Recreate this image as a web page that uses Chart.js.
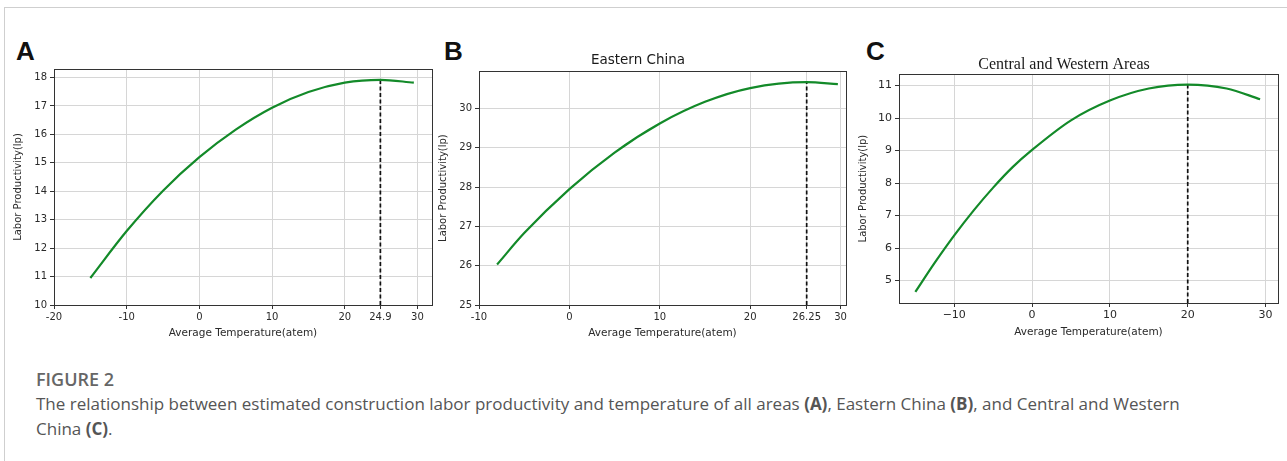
<!DOCTYPE html>
<html>
<head>
<meta charset="utf-8">
<script src="https://cdn.jsdelivr.net/npm/chart.js@4"></script>
<style>
  body { margin: 0; width: 1287px; height: 461px; background: #fff; position: relative; overflow: hidden; font-family: "Open Sans", sans-serif; }
  .card { position: absolute; left: 4px; top: 7px; width: 1300px; height: 470px; border-left: 1px solid #cfcfcf; border-top: 1px solid #cfcfcf; }
  .panel { position: absolute; top: 40px; }
  .letter { position: absolute; top: 38px; font: bold 26px/26px "Liberation Sans", Arial, sans-serif; color: #111; }
  .cap-head { position: absolute; left: 36px; top: 367px; font-size: 18px; line-height: 24px; font-weight: 600; color: #666; }
  .cap-text { position: absolute; left: 36px; top: 391px; font-size: 17px; line-height: 25px; color: #555; white-space: nowrap; }
  .cap-text b { font-weight: 700; color: #555; }
</style>
</head>
<body>
<div class="card"></div>

<div class="letter" style="left:16px">A</div>
<div class="letter" style="left:444px">B</div>
<div class="letter" style="left:866px">C</div>

<canvas id="chartA" class="panel" style="left:0px" width="440" height="310"></canvas>
<canvas id="chartB" class="panel" style="left:430px" width="430" height="310"></canvas>
<canvas id="chartC" class="panel" style="left:850px" width="437" height="310"></canvas>

<div class="cap-head">FIGURE 2</div>
<div class="cap-text">The relationship between estimated construction labor productivity and temperature of all areas <b>(A)</b>, Eastern China <b>(B)</b>, and Central and Western<br>China <b>(C)</b>.</div>

<script>
// Panel A - all areas
const tempA = [-15, -10, -5, 0, 5, 10, 15, 20, 24.9, 29.5];
const lpA = [10.95, 12.6, 14.02, 15.2, 16.17, 16.94, 17.49, 17.82, 17.92, 17.82];
const xTicksA = [-20, -10, 0, 10, 20, 24.9, 30];
const yTicksA = [10, 11, 12, 13, 14, 15, 16, 17, 18];
const peakA = 24.9;

// Panel B - Eastern China
const tempB = [-8, -5, 0, 5, 10, 15, 20, 26.25, 29.7];
const lpB = [26.03, 26.83, 27.95, 28.88, 29.62, 30.17, 30.52, 30.67, 30.62];
const xTicksB = [-10, 0, 10, 20, 26.25, 30];
const yTicksB = [25, 26, 27, 28, 29, 30];
const peakB = 26.25;

// Panel C - Central and Western areas
const tempC = [-15, -12.5, -10, -7.5, -5, -2.5, 0, 5, 10, 15, 20, 25, 29.3];
const lpC = [4.65, 5.55, 6.39, 7.16, 7.86, 8.49, 9.02, 9.93, 10.54, 10.91, 11.03, 10.91, 10.58];
const xTicksC = [-10, 0, 10, 20, 30];
const yTicksC = [5, 6, 7, 8, 9, 10, 11];
const peakC = 20;

const xTitle = 'Average Temperature(atem)';
const yTitle = 'Labor Productivity(lp)';

// box around the plot area
const frame = {
  id: 'frame',
  beforeDatasetsDraw(chart) {
    const { ctx, chartArea: a } = chart;
    ctx.save();
    ctx.strokeStyle = '#333';
    ctx.lineWidth = 1;
    ctx.strokeRect(Math.round(a.left) + 0.5, Math.round(a.top) + 0.5,
      Math.round(a.right - a.left), Math.round(a.bottom - a.top));
    ctx.restore();
  }
};

function makePanel(id, p) {
  const curve = p.temp.map((t, i) => ({ x: t, y: p.lp[i] }));
  const peakY = p.lp[p.temp.indexOf(p.peak)];
  const dashed = [{ x: p.peak, y: p.yMin }, { x: p.peak, y: peakY }];

  return new Chart(document.getElementById(id), {
    type: 'line',
    data: {
      datasets: [
        {
          data: curve,
          borderColor: '#138a29',
          borderWidth: 2.2,
          pointRadius: 0,
          cubicInterpolationMode: 'monotone'
        },
        {
          data: dashed,
          borderColor: '#111',
          borderWidth: 1.7,
          borderDash: [4, 2.5],
          pointRadius: 0
        }
      ]
    },
    options: {
      responsive: false,
      animation: false,
      devicePixelRatio: 1,
      layout: { padding: { top: p.padTop, right: p.padRight, left: 0, bottom: 0 } },
      plugins: {
        legend: { display: false },
        tooltip: { enabled: false },
        title: p.title ? {
          display: true,
          text: p.title,
          color: '#1a1a1a',
          font: p.titleFont,
          padding: p.titlePad
        } : { display: false }
      },
      scales: {
        x: {
          type: 'linear',
          min: p.xMin,
          max: p.xMax,
          afterBuildTicks: s => { s.ticks = p.xTicks.map(v => ({ value: v })); },
          afterFit: s => { s.height = p.xHeight; },
          grid: { color: '#d6d6d6', tickColor: '#333', tickLength: 4 },
          border: { color: '#333' },
          ticks: {
            autoSkip: false,
            maxRotation: 0,
            padding: 2,
            color: '#2a2a2a',
            font: { family: 'DejaVu Sans', size: p.tickSize },
            callback: v => p.minus ? String(v).replace('-', '\u2212') : String(v)
          },
          title: {
            display: true,
            text: xTitle,
            color: '#2a2a2a',
            font: { family: 'DejaVu Sans', size: 10.5 },
            padding: { top: 0, bottom: p.xTitlePad }
          }
        },
        y: {
          min: p.yMin,
          max: p.yMax,
          afterBuildTicks: s => { s.ticks = p.yTicks.map(v => ({ value: v })); },
          afterFit: s => { s.width = p.yWidth; },
          grid: { color: '#d6d6d6', tickColor: '#333', tickLength: 4 },
          border: { color: '#333' },
          ticks: {
            padding: 3,
            color: '#2a2a2a',
            font: { family: 'DejaVu Sans', size: p.tickSize }
          },
          title: {
            display: true,
            text: yTitle,
            color: '#2a2a2a',
            font: { family: 'DejaVu Sans', size: 10 },
            padding: { top: p.yTitlePad, bottom: 0 }
          }
        }
      }
    },
    plugins: [frame]
  });
}

makePanel('chartA', {
  temp: tempA, lp: lpA, peak: peakA, xTicks: xTicksA, yTicks: yTicksA,
  xMin: -20, xMax: 32, yMin: 10, yMax: 18.3,
  padTop: 29, padRight: 8, yWidth: 54, xHeight: 45,
  tickSize: 10, xTitlePad: 10, yTitlePad: 12
});

makePanel('chartB', {
  temp: tempB, lp: lpB, peak: peakB, xTicks: xTicksB, yTicks: yTicksB,
  xMin: -10, xMax: 30.6, yMin: 25, yMax: 30.95,
  padTop: 0, padRight: 14, yWidth: 49, xHeight: 45,
  title: 'Eastern China', titleFont: { family: 'DejaVu Sans', size: 13.5, weight: 'normal' },
  titlePad: { top: 12, bottom: 3 },
  tickSize: 10, xTitlePad: 10, yTitlePad: 7
});

makePanel('chartC', {
  temp: tempC, lp: lpC, peak: peakC, xTicks: xTicksC, yTicks: yTicksC,
  xMin: -17.1, xMax: 31.6, yMin: 4.31, yMax: 11.35,
  padTop: 0, padRight: 9, yWidth: 49, xHeight: 47,
  title: 'Central and Western Areas', titleFont: { family: 'Liberation Serif', size: 16, weight: 'normal' },
  titlePad: { top: 15, bottom: 0 },
  tickSize: 11, xTitlePad: 11, yTitlePad: 7, minus: true
});
</script>
</body>
</html>
